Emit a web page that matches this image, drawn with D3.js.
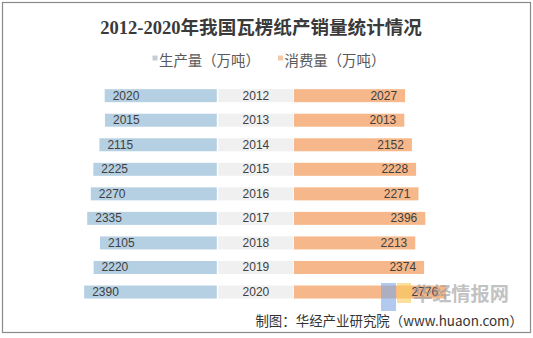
<!DOCTYPE html>
<html><head><meta charset="utf-8">
<script src="https://cdn.jsdelivr.net/npm/d3@7"></script>
<style>body{margin:0;background:#fff}svg{display:block}</style>
</head><body>
<svg id="c" width="533" height="338"></svg>
<script>
const years = ["2012","2013","2014","2015","2016","2017","2018","2019","2020"];
const production = [2020,2015,2115,2225,2270,2335,2105,2220,2390];
const consumption = [2027,2013,2152,2228,2271,2396,2213,2374,2776];
const seriesNames = ["生产量（万吨）","消费量（万吨）"];
const title = "2012-2020年我国瓦楞纸产销量统计情况";
const source = "制图：华经产业研究院（www.huaon.com）";

const svg = d3.select("#c");
function fit(sel, base, target){
  sel.attr("font-size", base);
  const w = sel.node().getComputedTextLength();
  if (w > 0) sel.attr("font-size", base*target/w);
  return sel;
}
svg.append("rect").attr("x",2.5).attr("y",2.5).attr("width",528).attr("height",330)
  .attr("fill","#fff").attr("stroke","#8a8a8a").attr("stroke-width",1.2);

const t = svg.append("text").attr("x",261).attr("y",33.5).attr("text-anchor","middle")
  .attr("font-family","'Liberation Serif','DejaVu Serif','Noto Sans CJK SC',serif")
  .attr("font-weight","bold").attr("fill","#3a3a3a").text(title);
fit(t, 21, 322);

// legend
const legColors = ["#c6cdd6","#f3c8a6"];
const legX = [152.5, 278];
seriesNames.forEach((n,i)=>{
  svg.append("rect").attr("x",legX[i]).attr("y",55.5).attr("width",5).attr("height",5).attr("fill",legColors[i]);
  const lt = svg.append("text").attr("x",legX[i]+6.5).attr("y",59.5).attr("dominant-baseline","central")
    .attr("font-family","'Noto Sans CJK SC',sans-serif").attr("fill","#595959").text(n);
  fit(lt, 14, 101);
});

const y = d3.scaleBand().domain(years).range([83.4, 304.3]).paddingInner(0.47).paddingOuter(0.235);
const xL = d3.scaleLinear().domain([0,3000]).range([216.8, 216.8-166.5]);
const xR = d3.scaleLinear().domain([0,3000]).range([294, 294+164.4]);

const font = "'Liberation Sans',Arial,sans-serif";
const g = svg.append("g");
g.selectAll(".mid").data(years).join("rect")
  .attr("x", xL(0)+1.5).attr("width", xR(0)-xL(0)-2)
  .attr("y", d=>y(d)).attr("height", y.bandwidth()).attr("fill","#f0f0f0");
g.selectAll(".lb").data(production).join("rect")
  .attr("x",d=>xL(d)).attr("width",d=>xL(0)-xL(d))
  .attr("y",(d,i)=>y(years[i])).attr("height",y.bandwidth()).attr("fill","#b6d0e3");
g.selectAll(".rb").data(consumption).join("rect")
  .attr("x",xR(0)).attr("width",d=>xR(d)-xR(0))
  .attr("y",(d,i)=>y(years[i])).attr("height",y.bandwidth()).attr("fill","#f6b88b");

g.selectAll(".lt").data(production).join("text")
  .attr("x",d=>xL(d)+8).attr("y",(d,i)=>y(years[i])+y.bandwidth()/2).attr("dominant-baseline","central")
  .attr("font-family",font).attr("font-size",12).attr("fill","#404040").text(d=>d);
g.selectAll(".rt").data(consumption).join("text")
  .attr("x",d=>xR(d)-8).attr("y",(d,i)=>y(years[i])+y.bandwidth()/2).attr("dominant-baseline","central")
  .attr("text-anchor","end").attr("font-family",font).attr("font-size",12).attr("fill","#404040").text(d=>d);
g.selectAll(".yt").data(years).join("text")
  .attr("x",(xL(0)+xR(0))/2+0.5).attr("y",d=>y(d)+y.bandwidth()/2).attr("dominant-baseline","central")
  .attr("text-anchor","middle").attr("font-family",font).attr("font-size",12).attr("fill","#404040").text(d=>d);

// source
const s = svg.append("text").attr("x",523).attr("y",319.5).attr("text-anchor","end").attr("dominant-baseline","central")
  .attr("font-family","'Noto Sans CJK SC',sans-serif").attr("fill","#333").text(source);
fit(s, 13.5, 268);

// watermark
const wm = svg.append("g");
wm.append("rect").attr("x",381).attr("y",283).attr("width",15).attr("height",28).attr("fill","#7fa6e6").attr("opacity",0.6);
wm.append("rect").attr("x",397).attr("y",283).attr("width",14).attr("height",20).attr("fill","#f8c95a").attr("opacity",0.6);
const w1 = wm.append("text").attr("x",413).attr("y",301).attr("font-family","'Noto Sans CJK SC',sans-serif")
  .attr("font-weight","bold").attr("fill","#9a9a9a").attr("opacity",0.6).text("华经情报网");
fit(w1, 19, 96);
</script>
</body></html>
